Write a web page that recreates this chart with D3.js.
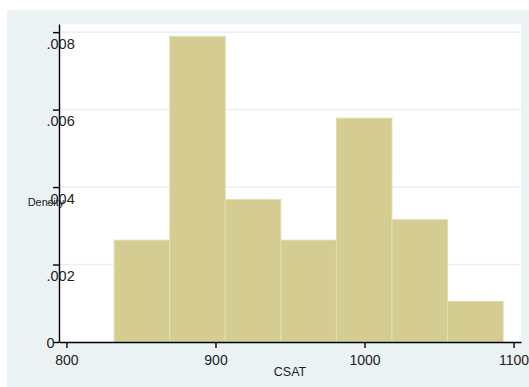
<!DOCTYPE html>
<html>
<head>
<meta charset="utf-8">
<script src="https://cdn.jsdelivr.net/npm/d3@7"></script>
<style>
  html, body { margin: 0; padding: 0; background: #ffffff; }
  svg { display: block; }
  text { font-family: "Liberation Sans", Arial, Helvetica, sans-serif; fill: #222; }
</style>
</head>
<body>
<svg id="chart" width="529" height="387"></svg>
<script>
// Histogram of CSAT (7 bins), density scale
const binEdges = [832, 869.29, 906.57, 943.86, 981.14, 1018.43, 1055.71, 1093];
const densities = [0.00263, 0.00789, 0.00368, 0.00263, 0.00578, 0.00316, 0.00105];
const xTicks = [800, 900, 1000, 1100];
const yTicks = [0, 0.002, 0.004, 0.006, 0.008];
const yTickLabels = ["0", ".002", ".004", ".006", ".008"];

const svg = d3.select("#chart");
const W = 529, H = 387;
const plot = { left: 59, top: 24, right: 521, bottom: 342 };

// graph region and plot region backgrounds
svg.append("rect").attr("x", 7).attr("y", 10).attr("width", W - 7).attr("height", H - 10)
  .attr("fill", "#eaf2f3");
svg.append("rect").attr("x", plot.left).attr("y", plot.top)
  .attr("width", plot.right - plot.left).attr("height", plot.bottom - plot.top)
  .attr("fill", "#ffffff");

const x = d3.scaleLinear().domain([795, 1105]).range([plot.left, plot.right]);
const y = d3.scaleLinear().domain([0, 0.00821]).range([plot.bottom, plot.top]);

// horizontal grid lines
svg.append("g").selectAll("line").data(yTicks.filter(d => d > 0)).join("line")
  .attr("x1", plot.left).attr("x2", plot.right)
  .attr("y1", d => y(d)).attr("y2", d => y(d))
  .attr("stroke", "#eaf2f3").attr("stroke-width", 1.6);

// bars
const bins = densities.map((d, i) => ({ x0: binEdges[i], x1: binEdges[i + 1], d }));
svg.append("g").selectAll("rect").data(bins).join("rect")
  .attr("x", b => x(b.x0))
  .attr("y", b => y(b.d))
  .attr("width", b => x(b.x1) - x(b.x0))
  .attr("height", b => y(0) - y(b.d))
  .attr("fill", "#d4cc91")
  .attr("stroke", "#e3ddb6")
  .attr("stroke-width", 1);

// x axis
const xAxis = svg.append("g")
  .attr("transform", `translate(0,${plot.bottom})`)
  .call(d3.axisBottom(x).tickValues(xTicks).tickFormat(d3.format("d")).tickSize(6).tickSizeOuter(0).tickPadding(4));
xAxis.select(".domain").attr("stroke", "#000").attr("stroke-width", 1.4);
xAxis.selectAll(".tick line").attr("stroke", "#000").attr("stroke-width", 1.4);
xAxis.selectAll(".tick text")
  .attr("font-family", "Liberation Sans, Arial, sans-serif")
  .attr("font-size", 14).attr("fill", "#222")
  .attr("dy", null).attr("y", 23).attr("dominant-baseline", "auto");

// y axis
const yAxis = svg.append("g")
  .attr("transform", `translate(${plot.left},0)`)
  .call(d3.axisLeft(y).tickValues(yTicks).tickFormat((d, i) => yTickLabels[i]).tickSize(6).tickSizeOuter(0));
yAxis.select(".domain").attr("stroke", "#000").attr("stroke-width", 1.4);
yAxis.selectAll(".tick line").attr("stroke", "#000").attr("stroke-width", 1.4);
yAxis.selectAll(".tick text")
  .attr("font-family", "Liberation Sans, Arial, sans-serif")
  .attr("font-size", 14.5).attr("fill", "#222")
  .attr("text-anchor", "start")
  .attr("x", -12.5)
  .attr("dy", null)
  .attr("y", d => d === 0 ? 5 : 16);

// axis titles
svg.append("text").attr("x", (plot.left + plot.right) / 2).attr("y", 376)
  .attr("text-anchor", "middle").attr("font-size", 12.5).text("CSAT");
svg.append("text").attr("x", 46).attr("y", 206)
  .attr("text-anchor", "middle").attr("font-size", 11).text("Density");
</script>
</body>
</html>
